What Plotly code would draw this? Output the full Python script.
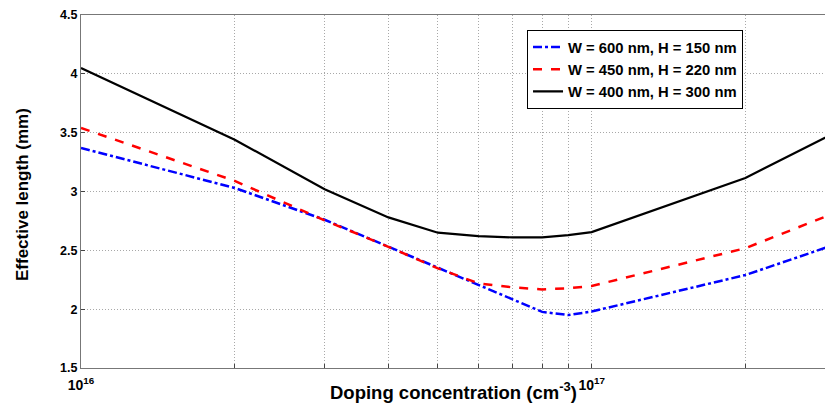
import plotly.graph_objects as go

doping = [1e16, 2e16, 3e16, 4e16, 5e16, 6e16, 7e16, 8e16, 9e16, 1e17, 2e17, 3e17]
len_600_150 = [3.37, 3.03, 2.76, 2.53, 2.35, 2.205, 2.077, 1.977, 1.95, 1.98, 2.29, 2.55]
len_450_220 = [3.54, 3.09, 2.755, 2.53, 2.347, 2.22, 2.185, 2.168, 2.177, 2.197, 2.518, 2.82]
len_400_300 = [4.05, 3.44, 3.02, 2.78, 2.65, 2.62, 2.61, 2.61, 2.63, 2.655, 3.115, 3.50]

names = ["W = 600 nm, H = 150 nm", "W = 450 nm, H = 220 nm", "W = 400 nm, H = 300 nm"]
x_tickvals = [1e16, 2e16, 3e16, 4e16, 5e16, 6e16, 7e16, 8e16, 9e16, 1e17, 2e17, 3e17]
x_ticktext = ["<b>10<sup>16</sup></b>", "", "", "", "", "", "", "", "", "<b>10<sup>17</sup></b>", "", ""]
y_tickvals = [1.5, 2, 2.5, 3, 3.5, 4, 4.5]

fig = go.Figure()
fig.add_trace(go.Scatter(x=doping, y=len_600_150, mode="lines", name=names[0],
                         line=dict(color="#0000ff", width=2.5, dash="dashdot")))
fig.add_trace(go.Scatter(x=doping, y=len_450_220, mode="lines", name=names[1],
                         line=dict(color="#ff0000", width=2.5, dash="dash")))
fig.add_trace(go.Scatter(x=doping, y=len_400_300, mode="lines", name=names[2],
                         line=dict(color="#000000", width=2.2)))

fig.update_layout(
    width=825, height=405,
    margin=dict(l=81, r=0, t=15, b=37),
    paper_bgcolor="white", plot_bgcolor="white",
    font=dict(family="Liberation Sans, Arial, sans-serif", color="black"),
    showlegend=True,
    legend=dict(x=0.5995, y=0.958, xanchor="left", yanchor="top",
                bgcolor="white", bordercolor="black", borderwidth=1,
                font=dict(size=14.8, weight="bold"), tracegroupgap=0,
                itemwidth=30),
    xaxis=dict(type="log", range=[16, 17.457], tickvals=x_tickvals, ticktext=x_ticktext,
               tickfont=dict(size=14, weight="bold"), ticks="inside", ticklen=4,
               ticklabelstandoff=4,
               showgrid=True, gridcolor="#a8a8a8", griddash="1px,2px", gridwidth=1,
               showline=True, linecolor="#777", linewidth=1, mirror=True, zeroline=False),
    yaxis=dict(range=[1.5, 4.5], tickvals=y_tickvals,
               tickfont=dict(size=12.5, weight="bold"), ticks="inside", ticklen=4,
               showgrid=True, gridcolor="#a8a8a8", griddash="1px,2px", gridwidth=1,
               showline=True, linecolor="#777", linewidth=1, mirror=True, zeroline=False),
    annotations=[
        dict(text="<b>Doping concentration (cm<sup>-3</sup>)</b>", x=0.5, y=-0.066,
             xref="paper", yref="paper", xanchor="center", yanchor="middle",
             showarrow=False, font=dict(size=18.5)),
        dict(text="<b>Effective length (mm)</b>", x=-0.0793, y=0.49, textangle=-90,
             xref="paper", yref="paper", xanchor="center", yanchor="middle",
             showarrow=False, font=dict(size=17)),
    ],
)

fig.write_html("out.html")
